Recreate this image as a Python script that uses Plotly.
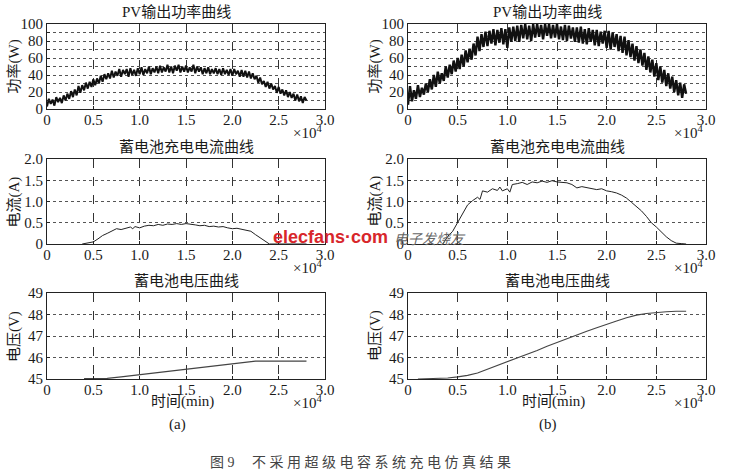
import plotly.graph_objects as go

# ---------------- data ----------------
t_power = list(range(0, 28001, 200))
power_a = [3, 12, 6, 11, 4,
           14, 8, 13, 7, 16,
           10, 18, 12, 21, 14,
           23, 16, 27, 19, 28,
           22, 31, 24, 32, 26,
           35, 28, 36, 30, 39,
           32, 41, 35, 42, 36,
           45, 37, 44, 39, 47,
           38, 46, 41, 47, 38,
           48, 40, 46, 39, 48,
           41, 49, 40, 47, 42,
           50, 41, 48, 43, 50,
           42, 51, 43, 49, 44,
           52, 43, 50, 42, 51,
           45, 52, 43, 50, 44,
           51, 43, 49, 44, 52,
           42, 50, 44, 49, 41,
           48, 42, 49, 41, 47,
           42, 48, 41, 47, 40,
           48, 41, 46, 40, 47,
           39, 47, 41, 45, 38,
           46, 38, 45, 37, 44,
           36, 42, 35, 39, 31,
           37, 29, 33, 26, 32,
           24, 30, 23, 27, 19,
           26, 18, 23, 16, 22,
           14, 20, 13, 18, 10,
           17, 9, 15, 7, 14,
           10]
power_b = [5, 27, 9, 22, 12,
           28, 14, 25, 17, 30,
           20, 35, 23, 40, 26,
           44, 30, 42, 33, 50,
           37, 52, 41, 57, 44,
           60, 47, 64, 50, 69,
           55, 71, 58, 77, 63,
           85, 68, 88, 73, 91,
           74, 92, 77, 94, 75,
           93, 78, 95, 76, 94,
           72, 96, 79, 97, 80,
           98, 79, 99, 83, 100,
           82, 98, 80, 100, 84,
           100, 85, 99, 82, 100,
           86, 100, 83, 99, 84,
           100, 82, 97, 81, 99,
           80, 98, 83, 96, 79,
           96, 78, 97, 77, 94,
           76, 95, 79, 93, 75,
           93, 74, 91, 77, 92,
           72, 92, 70, 90, 73,
           88, 68, 86, 66, 85,
           63, 81, 61, 77, 57,
           74, 54, 70, 51, 66,
           46, 62, 43, 58, 38,
           54, 34, 50, 31, 46,
           27, 42, 24, 38, 20,
           34, 16, 31, 13, 29,
           18]

t_cur_a = [3800, 4500, 5000, 5500, 6000, 6500, 7000, 7500, 8000, 8500, 9000, 9250,
           9500, 10000, 10500, 11000, 11500, 12000, 12500, 13000, 13500, 14000,
           14500, 15000, 15500, 16000, 16500, 17000, 17500, 18000, 18500, 19000,
           19500, 20000, 20500, 21000, 21500, 22000, 22500, 23000, 23500, 24000, 28000]
cur_a = [0, 0.02, 0.05, 0.12, 0.2, 0.25, 0.3, 0.36, 0.34, 0.37, 0.4, 0.36,
         0.41, 0.38, 0.42, 0.44, 0.43, 0.46, 0.44, 0.47, 0.46, 0.48,
         0.46, 0.48, 0.47, 0.45, 0.43, 0.44, 0.41, 0.42, 0.40, 0.41,
         0.38, 0.36, 0.37, 0.35, 0.33, 0.3, 0.22, 0.14, 0.06, 0.0, 0.0]

t_cur_b = [3500, 4000, 4500, 5000, 5500, 6000, 6500, 7000, 7250, 7500, 8000, 8500,
           9000, 9250, 9500, 10000, 10250, 10500, 11000, 11500, 12000, 12500,
           13000, 13500, 14000, 14500, 15000, 15500, 16000, 16500, 17000, 17500,
           18000, 18500, 19000, 19500, 20000, 20500, 21000, 21500, 22000, 22500,
           23000, 23500, 24000, 24500, 25000, 25500, 26000, 26500, 27000, 27500, 28000]
cur_b = [0, 0.18, 0.3, 0.5, 0.7, 0.92, 1.02, 1.1, 1.05, 1.25, 1.22, 1.3,
         1.26, 1.34, 1.25, 1.3, 1.22, 1.4, 1.42, 1.45, 1.4, 1.46,
         1.44, 1.48, 1.45, 1.49, 1.46, 1.45, 1.44, 1.4, 1.32, 1.35,
         1.33, 1.3, 1.28, 1.3, 1.25, 1.23, 1.2, 1.15, 1.08, 0.98,
         0.88, 0.78, 0.65, 0.5, 0.4, 0.28, 0.17, 0.08, 0.02, 0.01, 0.0]

t_volt_a = [4000, 6500, 8000, 10000, 12000, 14000, 15000, 17000, 19000, 20000,
            21000, 22500, 28000]
volt_a = [45.02, 45.03, 45.1, 45.2, 45.3, 45.4, 45.45, 45.55, 45.65, 45.7,
          45.75, 45.83, 45.83]

t_volt_b = [1000, 3000, 4000, 5000, 6000, 7000, 8000, 9000, 10000, 11000, 12000,
            13000, 14000, 15000, 16000, 17000, 18000, 19000, 20000, 21000, 22000,
            23000, 24000, 25000, 26000, 27000, 28000]
volt_b = [45.0, 45.02, 45.05, 45.1, 45.17, 45.28, 45.45, 45.62, 45.8, 45.97, 46.15,
          46.33, 46.52, 46.7, 46.88, 47.05, 47.22, 47.38, 47.55, 47.7, 47.85,
          47.97, 48.05, 48.1, 48.13, 48.15, 48.15]

x_tickvals = [0, 5000, 10000, 15000, 20000, 25000, 30000]
x_ticktext = ["0", "0.5", "1.0", "1.5", "2.0", "2.5", "3.0"]
p_tickvals = [0, 10, 20, 30, 40, 50, 60, 70, 80, 90, 100]
p_ticktext = ["0", "", "20", "", "40", "", "60", "", "80", "", "100"]
i_tickvals = [0, 0.5, 1.0, 1.5, 2.0]
i_ticktext = ["0", "0.5", "1.0", "1.5", "2.0"]
v_tickvals = [45, 46, 47, 48, 49]
v_ticktext = ["45", "46", "47", "48", "49"]

titles = ["PV输出功率曲线", "蓄电池充电电流曲线", "蓄电池电压曲线"]
ytitles = ["功率(W)", "电流(A)", "电压(V)"]

# ---------------- figure ----------------
W, H = 745, 476
FONT = "Liberation Serif, Times New Roman, Noto Sans CJK SC, serif"
TXT = "#1a1a1a"

fig = go.Figure()

col_x = [(47, 325), (408, 706)]
row_y = [(24, 109), (159, 244), (293, 379)]

series = [
    [(t_power, power_a, 2.0, "#111"), (t_power, power_b, 2.4, "#111")],
    [(t_cur_a, cur_a, 1.0, "#222"), (t_cur_b, cur_b, 1.0, "#222")],
    [(t_volt_a, volt_a, 1.1, "#444"), (t_volt_b, volt_b, 1.1, "#444")],
]
yranges = [(0, 100), (0, 2.0), (45, 49)]
yticks = [(p_tickvals, p_ticktext), (i_tickvals, i_ticktext), (v_tickvals, v_ticktext)]


def px(x):
    return x / W


def py(y):
    return 1 - y / H


def note(x, y, text, size=15, color=TXT, family=FONT, xanchor="center", angle=0):
    fig.add_annotation(x=px(x), y=py(y), xref="paper", yref="paper", text=text,
                       showarrow=False, xanchor=xanchor, yanchor="middle", textangle=angle,
                       font=dict(family=family, size=size, color=color))


n = 0
for r in range(3):
    for c in range(2):
        n += 1
        xa = "x" if n == 1 else f"x{n}"
        ya = "y" if n == 1 else f"y{n}"
        xs, ys, lw, col = series[r][c]
        fig.add_trace(go.Scatter(x=xs, y=ys, mode="lines", xaxis=xa, yaxis=ya,
                                 line=dict(color=col, width=lw), showlegend=False,
                                 hoverinfo="skip"))
        x0, x1 = col_x[c]
        y0, y1 = row_y[r]
        common = dict(showline=True, linecolor="#222", linewidth=1, mirror=True,
                      ticks="inside", ticklen=3, tickcolor="#222", automargin=False,
                      tickfont=dict(family=FONT, size=15, color=TXT),
                      zeroline=False, showgrid=True)
        fig.layout[f"xaxis{n if n > 1 else ''}"] = dict(
            domain=[px(x0), px(x1)], anchor=ya, range=[0, 30000],
            tickvals=x_tickvals, ticktext=x_ticktext,
            gridcolor="#333", griddash="dash", gridwidth=1,
            ticklabelstandoff=-3, **common)
        fig.layout[f"yaxis{n if n > 1 else ''}"] = dict(
            domain=[py(y1), py(y0)], anchor=xa, range=list(yranges[r]),
            tickvals=yticks[r][0], ticktext=yticks[r][1],
            gridcolor="#555", griddash="dot", gridwidth=1,
            ticklabelstandoff=0, **common)

        # subplot title
        note((x0 + x1) / 2 - (10 if r == 0 else 0), y0 - 12, titles[r])
        # y axis title
        note(x0 - 33, (y0 + y1) / 2, ytitles[r], angle=-90)
        # x10^4 label
        note(x1 - 1, y1 + 23, "×10<sup>4</sup>", xanchor="right")

# x axis titles and panel labels
for c, lab in enumerate(["(a)", "(b)"]):
    x0, x1 = col_x[c]
    note((x0 + x1) / 2 - 4, 401, "时间(min)")
    note((x0 + x1) / 2 - 9, 424, lab)

# figure caption
note(360, 462, "图 9\u3000 不 采 用 超 级 电 容 系 统 充 电 仿 真 结 果", size=14, color="#444")

# watermarks
note(330, 237, "<b>elecfans·com</b>", size=18, color="#d8262b",
     family="Liberation Sans, Arial, sans-serif")
note(430, 238, "<i>电子发烧友</i>", size=14, color="#666", family="Noto Sans CJK SC")

fig.update_layout(width=W, height=H, margin=dict(l=0, r=0, t=0, b=0, pad=0), autosize=False,
                  paper_bgcolor="white", plot_bgcolor="white")

post = "document.body.style.margin='0px';document.body.style.padding='0px';"
fig.write_html("out.html", config={"displayModeBar": False}, post_script=post)
